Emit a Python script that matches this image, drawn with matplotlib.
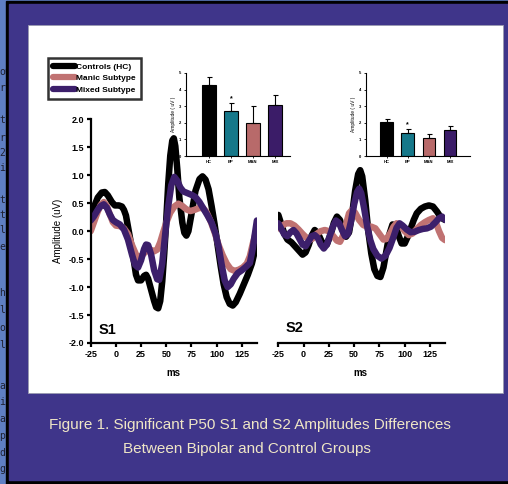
import matplotlib
matplotlib.use('Agg')
import numpy as np
import matplotlib.pyplot as plt
from matplotlib.patches import Rectangle
from matplotlib.lines import Line2D

plt.rcParams['font.family'] = ['Liberation Sans', 'DejaVu Sans']
plt.rcParams['font.weight'] = 'bold'
plt.rcParams['axes.unicode_minus'] = False

# ---- S1 grand averages (ms, uV) ----
s1_ctrl_t = [-25, -22, -18, -14, -11, -8, -4, -1, 3, 6, 8, 10, 12, 15, 18, 20, 22, 25, 28, 30, 32, 35, 38,
             40, 42, 44, 46, 48, 50, 52, 54, 56, 57.5, 59, 61, 63, 66, 68, 70, 72, 75, 79, 83, 86, 89, 92,
             95, 98, 101, 104, 107, 110, 113, 116, 119, 123, 127, 131, 135, 138, 141]
s1_ctrl_v = [0.28, 0.42, 0.60, 0.69, 0.70, 0.64, 0.52, 0.46, 0.46, 0.44, 0.38, 0.28, 0.08, -0.22, -0.55,
             -0.78, -0.88, -0.88, -0.80, -0.78, -0.85, -1.05, -1.25, -1.36, -1.38, -1.25, -0.90, -0.40, 0.20,
             0.85, 1.35, 1.62, 1.66, 1.52, 1.10, 0.60, 0.15, -0.03, -0.08, 0.00, 0.30, 0.72, 0.93, 0.98,
             0.92, 0.75, 0.45, 0.12, -0.25, -0.62, -0.95, -1.18, -1.30, -1.33, -1.27, -1.12, -0.95, -0.78,
             -0.58, -0.35, -0.14]

s1_manic_t = [-25, -22, -18, -15, -12, -9, -6, -3, 0, 4, 8, 12, 16, 20, 23, 26, 30, 34, 38, 41, 44, 47,
              50, 54, 58, 62, 66, 70, 74, 78, 82, 86, 90, 94, 98, 102, 106, 110, 114, 118, 122, 126, 130,
              133, 136, 140]
s1_manic_v = [0.00, 0.15, 0.35, 0.47, 0.52, 0.45, 0.30, 0.16, 0.10, 0.09, 0.05, -0.05, -0.25, -0.42, -0.48,
              -0.43, -0.36, -0.33, -0.36, -0.33, -0.20, -0.02, 0.15, 0.33, 0.44, 0.49, 0.45, 0.39, 0.36,
              0.38, 0.41, 0.42, 0.34, 0.18, -0.02, -0.25, -0.43, -0.58, -0.68, -0.71, -0.69, -0.65, -0.58,
              -0.45, -0.22, 0.05]

s1_mixed_t = [-25, -22, -18, -15, -12, -9, -6, -3, 0, 4, 8, 12, 16, 19, 22, 25, 28, 30, 32, 35, 38, 41,
              43, 46, 49, 52, 55, 58, 61, 64, 67, 71, 75, 79, 83, 87, 91, 95, 99, 102, 105, 108, 111, 114,
              117, 121, 125, 129, 133, 136, 138, 140]
s1_mixed_v = [0.19, 0.26, 0.38, 0.45, 0.48, 0.42, 0.30, 0.20, 0.16, 0.12, 0.03, -0.15, -0.42, -0.60, -0.65,
              -0.52, -0.32, -0.24, -0.25, -0.42, -0.70, -0.86, -0.87, -0.58, -0.05, 0.45, 0.82, 0.97, 0.90,
              0.78, 0.71, 0.68, 0.65, 0.61, 0.52, 0.40, 0.28, 0.15, -0.05, -0.28, -0.60, -0.88, -1.00, -0.95,
              -0.85, -0.75, -0.70, -0.64, -0.57, -0.30, -0.05, 0.19]

# ---- S2 grand averages ----
s2_ctrl_t = [-25, -22, -19, -16, -12, -8, -4, -1, 2, 5, 8, 11, 14, 17, 20, 23, 27, 30, 33, 36, 39, 42, 45,
             48, 51, 54, 56, 58, 61, 64, 67, 70, 73, 76, 79, 82, 85, 88, 91, 94, 97, 100, 103, 106, 109,
             112, 116, 120, 124, 128, 132, 136, 140]
s2_ctrl_v = [0.29, 0.12, -0.05, -0.15, -0.20, -0.28, -0.36, -0.42, -0.38, -0.25, -0.08, 0.02, -0.03, -0.15,
             -0.26, -0.24, -0.05, 0.15, 0.26, 0.20, 0.00, -0.10, -0.02, 0.30, 0.72, 1.02, 1.09, 0.98, 0.55,
             0.00, -0.40, -0.68, -0.80, -0.82, -0.65, -0.35, -0.05, 0.12, 0.10, -0.08, -0.22, -0.22, -0.10,
             0.05, 0.20, 0.32, 0.40, 0.44, 0.46, 0.44, 0.35, 0.24, 0.20]

s2_manic_t = [-25, -21, -17, -13, -9, -5, -1, 3, 6, 9, 13, 17, 21, 25, 29, 33, 36, 39, 42, 45, 48, 51, 55,
              59, 63, 67, 71, 75, 79, 82, 86, 89, 92, 96, 100, 104, 108, 112, 116, 120, 124, 128, 131, 134,
              137, 140]
s2_manic_v = [0.05, 0.10, 0.14, 0.14, 0.10, 0.03, -0.05, -0.12, -0.16, -0.13, -0.05, 0.00, 0.02, 0.00,
              -0.08, -0.17, -0.19, -0.08, 0.12, 0.32, 0.38, 0.33, 0.20, 0.11, 0.08, 0.08, 0.05, -0.05, -0.15,
              -0.14, -0.03, 0.08, 0.14, 0.10, 0.00, -0.07, -0.04, 0.04, 0.11, 0.16, 0.20, 0.23, 0.15, 0.00,
              -0.12, -0.16]

s2_mixed_t = [-25, -22, -19, -16, -13, -10, -7, -4, -1, 2, 5, 8, 11, 14, 17, 20, 23, 26, 29, 32, 35, 38,
              41, 44, 47, 50, 53, 55, 57, 60, 63, 66, 69, 73, 77, 81, 85, 89, 92, 95, 98, 102, 106, 110,
              114, 118, 122, 126, 130, 134, 137, 140]
s2_mixed_v = [0.14, 0.04, -0.06, -0.09, -0.02, 0.02, -0.04, -0.14, -0.24, -0.27, -0.18, -0.09, -0.07, -0.12,
              -0.24, -0.31, -0.24, -0.08, 0.08, 0.19, 0.15, 0.02, -0.09, -0.05, 0.18, 0.48, 0.70, 0.76, 0.68,
              0.40, 0.08, -0.16, -0.32, -0.44, -0.49, -0.44, -0.30, -0.10, 0.06, 0.14, 0.10, 0.03, -0.02,
              -0.01, 0.02, 0.04, 0.05, 0.08, 0.15, 0.23, 0.26, 0.20]

# ---- inset bar charts ----
groups = ['HC', 'BP', 'MAN', 'MIX']
s1_bar_mean = [4.3, 2.7, 2.0, 3.05]
s1_bar_err = [0.45, 0.5, 1.0, 0.6]
s2_bar_mean = [2.02, 1.4, 1.07, 1.56]
s2_bar_err = [0.2, 0.22, 0.28, 0.24]

legend_labels = ['Controls (HC)', 'Manic Subtype', 'Mixed Subtype']

c_ctrl = '#000000'
c_manic = '#c07272'
c_mixed = '#3c1f6b'
bar_colors = ['#000000', '#16788a', '#b86a6a', '#3b1c68']

W, H = 508, 484


def fx(x):
    return x / W


def fy(y):
    return 1 - y / H


fig = plt.figure(figsize=(W / 100, H / 100), dpi=100)
fig.patch.set_facecolor('#5f7fc3')

# poster frame
fig.add_artist(Rectangle((fx(6), 0), 1, fy(1), transform=fig.transFigure, color='black', zorder=-10))
fig.add_artist(Rectangle((fx(9), fy(480)), 1, fy(4) - fy(480), transform=fig.transFigure,
                         color='#3f358a', zorder=-9))
fig.add_artist(Rectangle((fx(28), fy(393)), (503 - 28) / W, (393 - 25) / H, transform=fig.transFigure,
                         facecolor='white', edgecolor='#9a9ab0', lw=0.6, zorder=-8))

# bits of page text peeking out on the left
strip = fig.add_axes([0, 0, fx(6), 1])
strip.axis('off')
strip.set_xlim(0, 6)
strip.set_ylim(H, 0)
strip_rows = [(72, 'ou'), (88, 'r'), (120, 't'), (138, 'r'), (153, '2'), (168, 'i'), (200, 't'), (215, 't'),
              (230, 'l'), (247, 'e'), (293, 'h'), (310, 'l'), (328, 'o'), (345, 'l'), (386, 'a'), (402, 'i'),
              (419, 'a'), (436, 'p'), (453, 'd'), (469, 'g')]
for yy, s in strip_rows:
    strip.text(-1, yy, s, family='DejaVu Sans Mono', fontsize=7, weight='normal', color='#1e2030',
               va='center', ha='left', clip_on=True)


def wave_axes(left_px, right_px, show_y):
    ax = fig.add_axes([fx(left_px), fy(343), (right_px - left_px) / W, (343 - 119.3) / H])
    ax.patch.set_alpha(0)
    ax.set_xlim(-25, 140)
    ax.set_ylim(-2, 2)
    for s in ['top', 'right']:
        ax.spines[s].set_visible(False)
    ax.spines['bottom'].set_linewidth(1.6)
    ax.spines['left'].set_linewidth(1.6)
    ax.set_xticks(range(-25, 126, 25))
    ax.tick_params(direction='out', length=3, width=1.6, labelsize=6.5, pad=2)
    if show_y:
        ax.set_yticks(np.arange(-2, 2.01, 0.5))
        ax.set_yticklabels(['%.1f' % v for v in np.arange(-2, 2.01, 0.5)])
    else:
        ax.spines['left'].set_visible(False)
        ax.set_yticks([])
    return ax


ax1 = wave_axes(90.7, 256.9, True)
ax2 = wave_axes(278.3, 445.1, False)

kw = dict(lw=4.7, solid_capstyle='round', solid_joinstyle='round')
ax1.plot(s1_ctrl_t, s1_ctrl_v, color=c_ctrl, **kw)
ax1.plot(s1_manic_t, s1_manic_v, color=c_manic, **kw)
ax1.plot(s1_mixed_t, s1_mixed_v, color=c_mixed, **kw)
ax2.plot(s2_ctrl_t, s2_ctrl_v, color=c_ctrl, **kw)
ax2.plot(s2_manic_t, s2_manic_v, color=c_manic, **kw)
ax2.plot(s2_mixed_t, s2_mixed_v, color=c_mixed, **kw)

ax1.set_ylabel('Amplitude (uV)', fontsize=7)
ax1.yaxis.set_label_coords(-0.167, 0.5)

fig.text(fx(173), fy(373), 'ms', ha='center', va='center', fontsize=7)
fig.text(fx(360), fy(373), 'ms', ha='center', va='center', fontsize=7)
fig.text(fx(99), fy(330), 'S1', ha='left', va='center', fontsize=10.5)
fig.text(fx(286), fy(328), 'S2', ha='left', va='center', fontsize=10.5)

handles = [Line2D([], [], color=c, lw=4.5, solid_capstyle='round') for c in [c_ctrl, c_manic, c_mixed]]
leg = fig.legend(handles, legend_labels, loc='upper left', bbox_to_anchor=(fx(48), fy(58)),
                 bbox_transform=fig.transFigure, fontsize=6, frameon=True, fancybox=False,
                 borderpad=0.6, handlelength=2.6, handletextpad=0.2, labelspacing=0.45,
                 borderaxespad=0)
leg.get_frame().set_edgecolor('black')
leg.get_frame().set_linewidth(1.8)


def bar_inset(axis_px, first_px, step_px, right_px, means, errs, star_y):
    ax = fig.add_axes([fx(axis_px), fy(156), (right_px - axis_px) / W, (156 - 73) / H])
    ax.patch.set_alpha(0)
    x = np.arange(len(means))
    ax.bar(x, means, width=0.6, color=bar_colors, edgecolor='black', linewidth=0.8)
    ax.errorbar(x, means, yerr=[[0] * len(errs), errs], fmt='none', ecolor='black',
                elinewidth=0.8, capsize=1.8, capthick=0.8)
    ax.text(1, star_y, '*', ha='center', va='center', fontsize=5)
    left = -(first_px - axis_px) / step_px
    ax.set_xlim(left, (right_px - first_px) / step_px)
    ax.set_ylim(0, 5)
    for s in ['top', 'right']:
        ax.spines[s].set_visible(False)
    ax.spines['left'].set_linewidth(0.8)
    ax.spines['bottom'].set_linewidth(0.8)
    ax.set_xticks(x)
    ax.set_xticklabels(groups)
    ax.set_yticks(range(6))
    ax.tick_params(length=1.5, width=0.6, labelsize=3, pad=1.5)
    ax.set_ylabel('Amplitude ( uV )', fontsize=3.5, labelpad=2)
    return ax


bar_inset(185.5, 209, 22, 290, s1_bar_mean, s1_bar_err, 3.45)
bar_inset(365.7, 386.7, 21.1, 470, s2_bar_mean, s2_bar_err, 1.87)

cap_kw = dict(ha='center', va='center', color='#efe6c6', fontsize=11, weight='normal',
              family=['Liberation Sans', 'DejaVu Sans'])
fig.text(fx(250), fy(425), 'Figure 1. Significant P50 S1 and S2 Amplitudes Differences', **cap_kw)
fig.text(fx(247), fy(449), 'Between Bipolar and Control Groups', **cap_kw)

fig.savefig('out.png', dpi=100, facecolor=fig.get_facecolor())
